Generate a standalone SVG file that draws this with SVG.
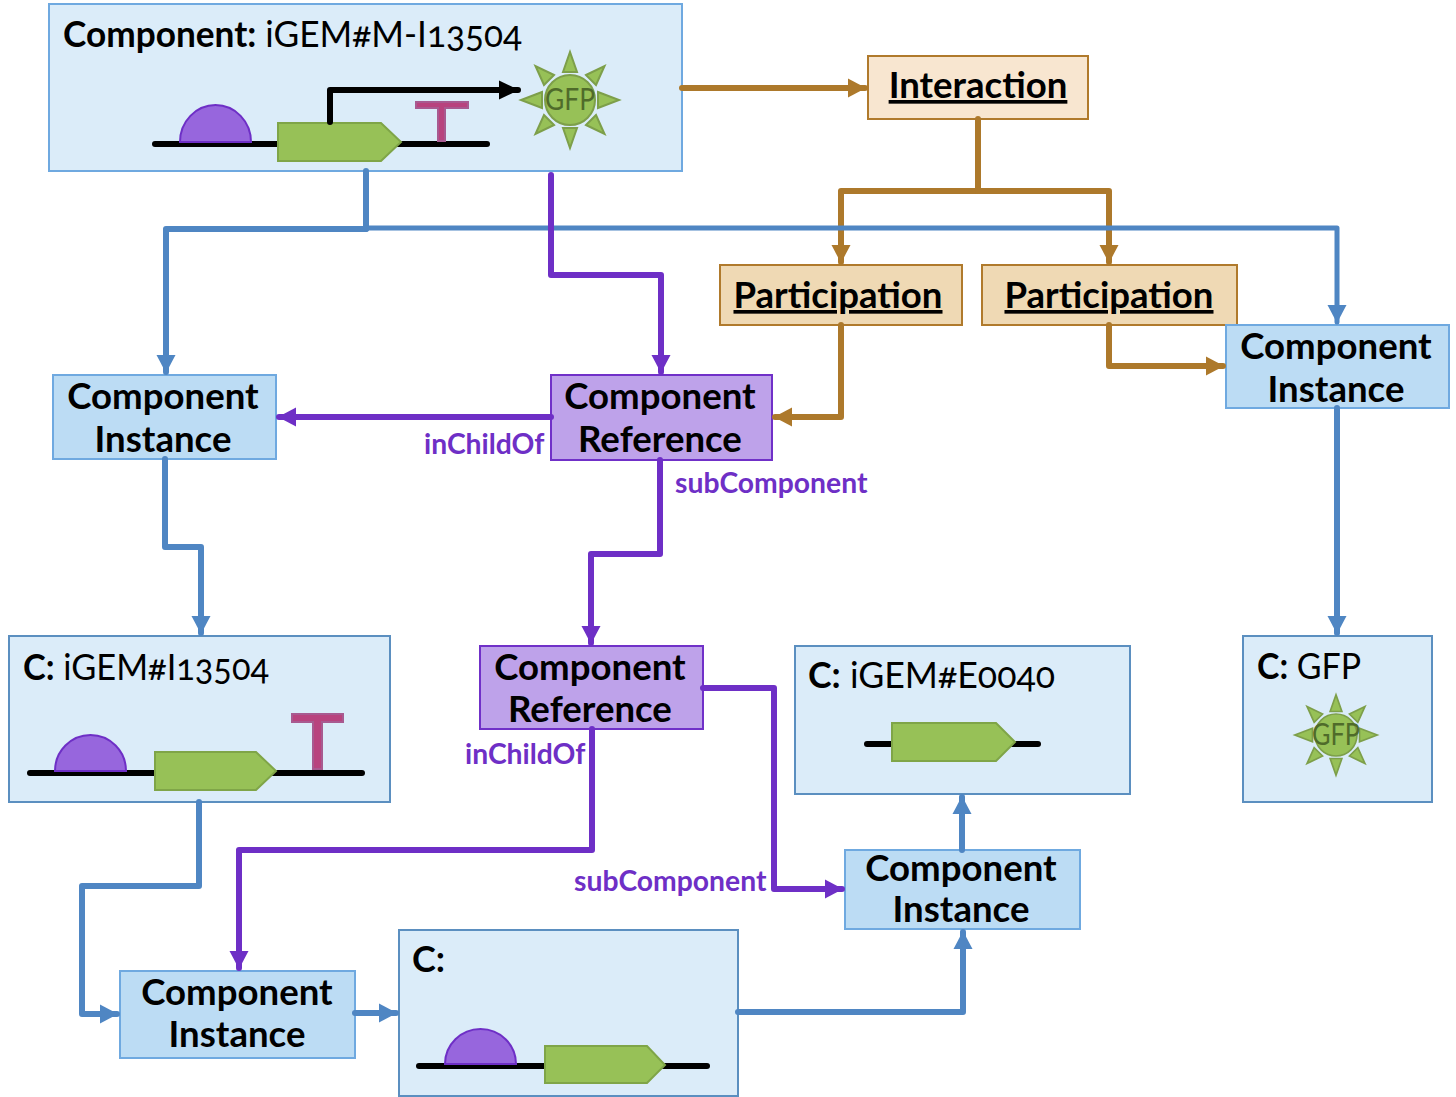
<svg xmlns="http://www.w3.org/2000/svg" width="1456" height="1097" viewBox="0 0 1456 1097">
<style>
text{font-family:Lato,"Liberation Sans",sans-serif;fill:#000;font-variant-numeric:oldstyle-nums}
.t{font-size:36.600px;font-weight:700;text-anchor:middle}
.h{font-size:36px}
.b{font-weight:700}
.u{text-decoration:underline}
.l{font-size:28.300px;font-weight:700;fill:#6e2fc6}
.g{font-size:30px;fill:#4f6b2a}
.pale{fill:#dbecf9;stroke:#6fa9e0;stroke-width:2}
.palec{fill:#dbecf9;stroke:#5b8fc0;stroke-width:2}
.inst{fill:#bcdcf4;stroke:#6fa9e0;stroke-width:2}
.ref{fill:#bea2ea;stroke:#7030c8;stroke-width:2}
.int{fill:#f8e6d0;stroke:#b07a2c;stroke-width:2}
.par{fill:#efd9b4;stroke:#b07a2c;stroke-width:2}
.c{fill:none;stroke-width:6;stroke-linejoin:round;stroke-linecap:round}
.blue{stroke:#4f86c3;marker-end:url(#ab)}
.nb{stroke:#4f86c3}
.pu{stroke:#6e2fc6;marker-end:url(#ap)}
.br{stroke:#ad792b;marker-end:url(#ao)}
.nbr{stroke:#ad792b}
.dna{stroke:#000;stroke-width:6;stroke-linecap:round;fill:none}
.rbs{fill:#9766dd;stroke:#6e2fc6;stroke-width:2}
.cds{fill:#97c157;stroke:#7fa548;stroke-width:2}
.term{fill:#b8437e;stroke:#a85a90;stroke-width:2}
.sun{fill:#97c157;stroke:#7d9f4a;stroke-width:2}
</style>
<defs>
<marker id="ab" markerUnits="userSpaceOnUse" markerWidth="22" markerHeight="22" refX="17" refY="10" orient="auto"><path d="M0 0.500L18 10L0 19.500z" fill="#4f86c3"/></marker>
<marker id="ap" markerUnits="userSpaceOnUse" markerWidth="22" markerHeight="22" refX="17" refY="10" orient="auto"><path d="M0 0.500L18 10L0 19.500z" fill="#6e2fc6"/></marker>
<marker id="ao" markerUnits="userSpaceOnUse" markerWidth="22" markerHeight="22" refX="17" refY="10" orient="auto"><path d="M0 0.500L18 10L0 19.500z" fill="#ad792b"/></marker>
<marker id="ak" markerUnits="userSpaceOnUse" markerWidth="22" markerHeight="22" refX="19" refY="10" orient="auto"><path d="M0 0.500L20 10L0 19.500z" fill="#000"/></marker>
<g id="sunb">
<circle r="25"/>
<path d="M-7-28L0-48L7-28zM-7 28L0 48L7 28zM-28-8L-49 0L-28 8zM28-8L49 0L28 8zM-16-25L-34.500-34L-26-15zM16-25L34.500-34L26-15zM-16 25L-34.500 34L-26 15zM16 25L34.500 34L26 15z"/>
</g>
</defs>
<rect width="1456" height="1097" fill="#fff"/>
<g id="n-main">
<rect class="pale" x="49" y="4" width="633" height="167"/>
<text class="h" x="63" y="47" textLength="459" lengthAdjust="spacingAndGlyphs"><tspan class="b">Component:</tspan> iGEM#M-I13504</text>
<path class="dna" d="M155 144H487"/>
<path class="rbs" d="M180 142A35.500 37 0 0 1 251 142z"/>
<path class="cds" d="M278 123H381L401 142L381 161H278z"/>
<path class="term" d="M416 102H468V108H445V141H438V108H416z"/>
<path d="M330 122V90H518" fill="none" stroke="#000" stroke-width="6" stroke-linecap="round" stroke-linejoin="round" marker-end="url(#ak)"/>
<use href="#sunb" class="sun" transform="translate(570 100)"/>
<text class="g" x="545" y="110" textLength="50" lengthAdjust="spacingAndGlyphs">GFP</text>
</g>
<g id="n-interaction"><rect class="int" x="868" y="56" width="220" height="63"/><text class="t u" x="978" y="98">Interaction</text></g>
<g id="n-part1"><rect class="par" x="720" y="265" width="242" height="60"/><text class="t u" x="838" y="308">Participation</text></g>
<g id="n-part2"><rect class="par" x="982" y="265" width="255" height="60"/><text class="t u" x="1109" y="308">Participation</text></g>
<g id="n-ci1"><rect class="inst" x="53" y="375" width="223" height="84"/><text class="t" x="163" y="409">Component</text><text class="t" x="163" y="452">Instance</text></g>
<g id="n-cr1"><rect class="ref" x="551" y="375" width="221" height="85"/><text class="t" x="660" y="409">Component</text><text class="t" x="660" y="452">Reference</text></g>
<g id="n-ci2"><rect class="inst" x="1226" y="325" width="223" height="83"/><text class="t" x="1336" y="359">Component</text><text class="t" x="1336" y="402">Instance</text></g>
<g id="n-i13504">
<rect class="palec" x="9" y="636" width="381" height="166"/>
<text class="h" x="23" y="680" textLength="246" lengthAdjust="spacingAndGlyphs"><tspan class="b">C:</tspan> iGEM#I13504</text>
<path class="dna" d="M30 773H362"/>
<path class="rbs" d="M55 771A35.500 36 0 0 1 126 771z"/>
<path class="cds" d="M155 752H256L276 771L256 790H155z"/>
<path class="term" d="M292 714H343V722H322V769H313V722H292z"/>
</g>
<g id="n-cr2"><rect class="ref" x="480" y="646" width="223" height="83"/><text class="t" x="590" y="680">Component</text><text class="t" x="590" y="722">Reference</text></g>
<g id="n-e0040">
<rect class="palec" x="795" y="646" width="335" height="148"/>
<text class="h" x="808" y="688" textLength="247" lengthAdjust="spacingAndGlyphs"><tspan class="b">C:</tspan> iGEM#E0040</text>
<path class="dna" d="M867 744H1038"/>
<path class="cds" d="M892 723H996L1015 742L996 761H892z"/>
</g>
<g id="n-gfp">
<rect class="palec" x="1243" y="636" width="189" height="166"/>
<text class="h" x="1257" y="679" textLength="104" lengthAdjust="spacingAndGlyphs"><tspan class="b">C:</tspan> GFP</text>
<use href="#sunb" class="sun" transform="translate(1336 735) scale(0.84)"/>
<text class="g" x="1312" y="745" textLength="48" lengthAdjust="spacingAndGlyphs">GFP</text>
</g>
<g id="n-ci3"><rect class="inst" x="845" y="850" width="235" height="79"/><text class="t" x="961" y="881">Component</text><text class="t" x="961" y="922">Instance</text></g>
<g id="n-ci4"><rect class="inst" x="120" y="971" width="235" height="87"/><text class="t" x="237" y="1005">Component</text><text class="t" x="237" y="1047">Instance</text></g>
<g id="n-c">
<rect class="palec" x="399" y="930" width="339" height="166"/>
<text class="h" x="412" y="972" font-weight="700">C:</text>
<path class="dna" d="M419 1066H707"/>
<path class="rbs" d="M445 1064A35.500 35 0 0 1 516 1064z"/>
<path class="cds" d="M545 1046H647L665 1065L647 1083H545z"/>
</g>
<g id="connectors">
<path class="c br" d="M682 88H865"/>
<path class="c nbr" d="M978 119V191"/>
<path class="c br" d="M978 191H841V262"/>
<path class="c br" d="M978 191H1109V262"/>
<path class="c br" d="M841 325V417H775"/>
<path class="c br" d="M1109 325V366H1223"/>
<path class="c nb" d="M366 171V229"/>
<path class="c blue" d="M366 229H166V372"/>
<path class="c blue" style="stroke-width:5" d="M366 228H1337V322"/>
<path class="c pu" d="M551 175V275H661V372"/>
<path class="c pu" d="M551 417H279"/>
<path class="c pu" d="M660 460V554H591V643"/>
<path class="c blue" d="M165 459V547H201V633"/>
<path class="c blue" d="M1337 408V633"/>
<path class="c pu" d="M592 729V850H239V968"/>
<path class="c pu" d="M703 688H774V889H842"/>
<path class="c blue" d="M199 802V886H82V1014H117"/>
<path class="c blue" d="M355 1013H396"/>
<path class="c blue" d="M738 1012H963V932"/>
<path class="c blue" d="M962 850V797"/>
</g>
<g id="labels">
<text class="l" x="424" y="454">inChildOf</text>
<text class="l" x="675" y="493">subComponent</text>
<text class="l" x="465" y="764">inChildOf</text>
<text class="l" x="574" y="891">subComponent</text>
</g>
</svg>
